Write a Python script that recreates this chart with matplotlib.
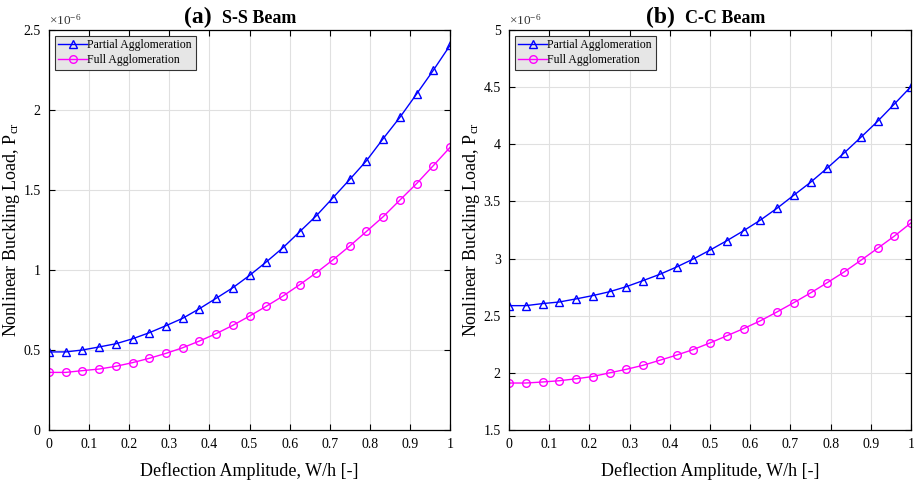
import numpy as np
import matplotlib.pyplot as plt
from matplotlib.ticker import FuncFormatter, MultipleLocator

plt.rcParams['font.family'] = ['Liberation Serif', 'DejaVu Serif']
plt.rcParams['mathtext.fontset'] = 'custom'
plt.rcParams['mathtext.rm'] = 'Liberation Serif'
plt.rcParams['mathtext.it'] = 'Liberation Serif:italic'

# deflection amplitude W/h
w = np.arange(25) / 24

# buckling load, units of 1e-6
ss_partial = [0.488, 0.488, 0.500, 0.519, 0.539, 0.570, 0.608, 0.652, 0.698,
              0.758, 0.823, 0.889, 0.966, 1.050, 1.139, 1.239, 1.339, 1.452,
              1.566, 1.683, 1.821, 1.954, 2.100, 2.248, 2.404]
ss_full = [0.360, 0.360, 0.371, 0.381, 0.398, 0.421, 0.448, 0.479, 0.514,
           0.556, 0.602, 0.654, 0.712, 0.773, 0.837, 0.908, 0.983, 1.064,
           1.150, 1.241, 1.333, 1.437, 1.540, 1.652, 1.766]
cc_partial = [2.588, 2.588, 2.606, 2.620, 2.647, 2.676, 2.710, 2.754, 2.807,
              2.862, 2.926, 2.996, 3.074, 3.156, 3.243, 3.336, 3.440, 3.554,
              3.667, 3.792, 3.923, 4.060, 4.200, 4.351, 4.505]
cc_full = [1.911, 1.911, 1.920, 1.931, 1.948, 1.968, 2.000, 2.031, 2.066,
           2.110, 2.155, 2.204, 2.262, 2.324, 2.387, 2.455, 2.533, 2.614,
           2.699, 2.789, 2.882, 2.984, 3.089, 3.196, 3.312]

panels = [
    ('(a)', 'S-S Beam', ss_partial, ss_full, (0, 2.5), 0.406),
    ('(b)', 'C-C Beam', cc_partial, cc_full, (1.5, 5), 0.413),
]

fig = plt.figure(figsize=(9.14, 4.8), dpi=100)
boxes = [[49 / 914, 50 / 480, 401 / 914, 400 / 480],
         [509 / 914, 50 / 480, 402 / 914, 400 / 480]]

for box, (tag, name, part, full, ylim, tx) in zip(boxes, panels):
    ax = fig.add_axes(box)
    ax.plot(w, part, color='blue', lw=1.0, marker='^', ms=6, mfc='none',
            mew=1.0, label='Partial Agglomeration')
    ax.plot(w, full, color='magenta', lw=1.0, marker='o', ms=5.5, mfc='none',
            mew=1.0, label='Full Agglomeration')
    ax.set_xlim(0, 1)
    ax.set_ylim(*ylim)
    ax.xaxis.set_major_locator(MultipleLocator(0.1))
    ax.yaxis.set_major_locator(MultipleLocator(0.5))
    ax.xaxis.set_major_formatter(FuncFormatter(lambda v, p: f'{v:g}'))
    ax.yaxis.set_major_formatter(FuncFormatter(lambda v, p: f'{v:g}'))
    ax.grid(True, color='#e0e0e0', lw=0.8)
    ax.set_axisbelow(True)
    ax.tick_params(direction='in', top=True, right=True, labelsize=10,
                   length=4, width=0.8, pad=6)
    for s in ax.spines.values():
        s.set_linewidth(0.9)
    ax.set_xlabel('Deflection Amplitude, W/h [-]', fontsize=13, labelpad=8)
    ax.set_ylabel(r'Nonlinear Buckling Load, P$_{\mathrm{cr}}$', fontsize=13,
                  labelpad=1)
    ax.text(0.0, 1.005, r'$\times$10$^{-6}$', transform=ax.transAxes,
            fontsize=9.5, color='#333333', va='bottom', ha='left')
    ax.text(tx, 1.018, tag, transform=ax.transAxes, fontsize=17,
            fontweight='bold', ha='right', va='baseline')
    ax.text(tx + 0.025, 1.018, name, transform=ax.transAxes, fontsize=13,
            fontweight='bold', ha='left', va='baseline')
    leg = ax.legend(loc='upper left', fontsize=8.5, fancybox=False,
                    handlelength=2.4, handletextpad=0.05, borderpad=0.3,
                    labelspacing=0.25, borderaxespad=0.5, framealpha=1)
    leg.get_frame().set_facecolor('#e6e6e6')
    leg.get_frame().set_edgecolor('#333333')
    leg.get_frame().set_linewidth(0.8)

fig.savefig('out.png', dpi=100)
